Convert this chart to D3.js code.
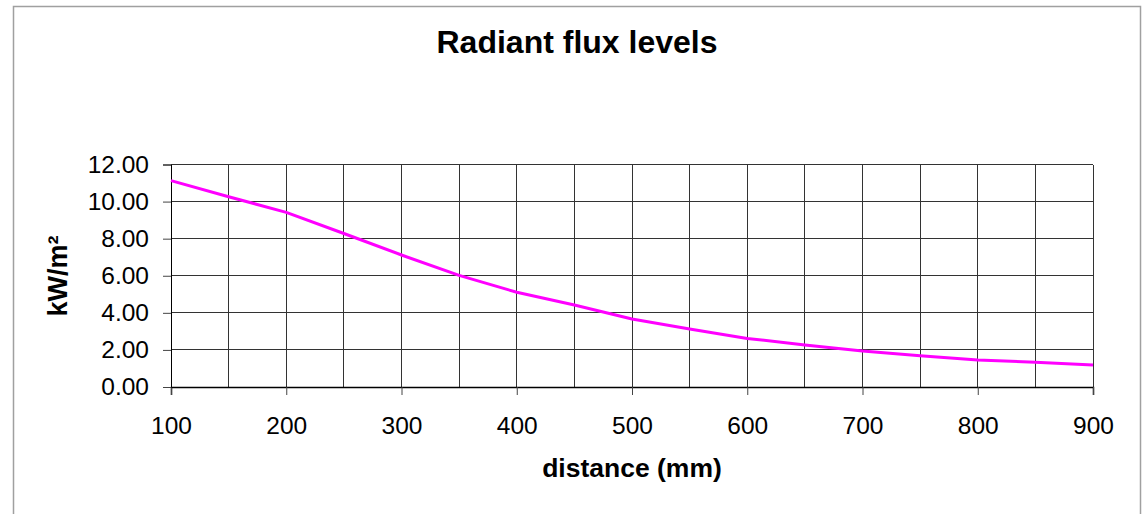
<!DOCTYPE html>
<html>
<head>
<meta charset="utf-8">
<script src="https://cdn.jsdelivr.net/npm/d3@7"></script>
<style>
  html, body { margin: 0; padding: 0; background: #fff; }
  svg { display: block; font-family: "Liberation Sans", Arial, sans-serif; }
</style>
</head>
<body>
<svg id="chart" width="1146" height="514"></svg>
<script>
// Radiant flux measured against distance from the source
const distances = [100, 150, 200, 250, 300, 350, 400, 450, 500, 550, 600, 650, 700, 750, 800, 850, 900];
const flux = [11.13, 10.26, 9.42, 8.28, 7.12, 6.02, 5.11, 4.42, 3.67, 3.13, 2.62, 2.27, 1.94, 1.69, 1.46, 1.33, 1.19];
const xTicks = [100, 200, 300, 400, 500, 600, 700, 800, 900];
const xGrid = [150, 200, 250, 300, 350, 400, 450, 500, 550, 600, 650, 700, 750, 800, 850, 900];
const yTicks = [0, 2, 4, 6, 8, 10, 12];

const svg = d3.select("#chart");
const plot = { left: 171, right: 1093, top: 164.5, bottom: 387 };

// Frame around the whole chart
svg.append("rect")
  .attr("x", 13.5).attr("y", 6.5)
  .attr("width", 1127).attr("height", 512)
  .attr("fill", "#fff").attr("stroke", "#a0a0a0").attr("stroke-width", 1.5);

const x = d3.scaleLinear().domain([100, 900]).range([plot.left, plot.right]);
const y = d3.scaleLinear().domain([0, 12]).range([plot.bottom, plot.top]);

// Grid
const grid = svg.append("g").attr("stroke", "#333").attr("stroke-width", 1).attr("shape-rendering", "crispEdges");
grid.selectAll("line.v").data(xGrid).join("line")
  .attr("class", "v")
  .attr("x1", d => x(d)).attr("x2", d => x(d))
  .attr("y1", plot.top).attr("y2", plot.bottom);
grid.selectAll("line.h").data(yTicks.filter(d => d > 0)).join("line")
  .attr("class", "h")
  .attr("x1", plot.left).attr("x2", plot.right)
  .attr("y1", d => y(d)).attr("y2", d => y(d));

// Axes
const xAxis = d3.axisBottom(x).tickValues(xTicks).tickSize(8).tickPadding(22)
  .tickFormat(d3.format("d"));
const gx = svg.append("g").attr("transform", `translate(0,${plot.bottom})`).call(xAxis);
gx.select(".domain").attr("stroke", "#000").attr("stroke-width", 1.5);
gx.selectAll(".tick line").attr("stroke", "#444");
gx.selectAll("text").attr("font-size", 24.5).attr("fill", "#000")
  .attr("font-family", "Liberation Sans, Arial, sans-serif");

const yAxis = d3.axisLeft(y).tickValues(yTicks).tickSize(8).tickPadding(14)
  .tickFormat(d3.format(".2f"));
const gy = svg.append("g").attr("transform", `translate(${plot.left},0)`).call(yAxis);
gy.select(".domain").attr("stroke", "#000").attr("stroke-width", 1);
gy.selectAll(".tick line").attr("stroke", "#444");
gy.selectAll("text").attr("font-size", 24.5).attr("fill", "#000")
  .attr("font-family", "Liberation Sans, Arial, sans-serif");

// Flux curve
const line = d3.line().x((d, i) => x(distances[i])).y(d => y(d));
svg.append("path")
  .datum(flux)
  .attr("d", line)
  .attr("fill", "none")
  .attr("stroke", "#ff00ff")
  .attr("stroke-width", 3)
  .attr("stroke-linejoin", "round");

// Titles
svg.append("text")
  .attr("x", 577).attr("y", 53)
  .attr("text-anchor", "middle")
  .attr("font-size", 32).attr("font-weight", "bold")
  .text("Radiant flux levels");

svg.append("text")
  .attr("x", 632).attr("y", 477)
  .attr("text-anchor", "middle")
  .attr("font-size", 26.5).attr("font-weight", "bold")
  .text("distance (mm)");

svg.append("text")
  .attr("transform", "translate(67,276) rotate(-90)")
  .attr("text-anchor", "middle")
  .attr("font-size", 27).attr("font-weight", "bold")
  .text("kW/m²");
</script>
</body>
</html>
